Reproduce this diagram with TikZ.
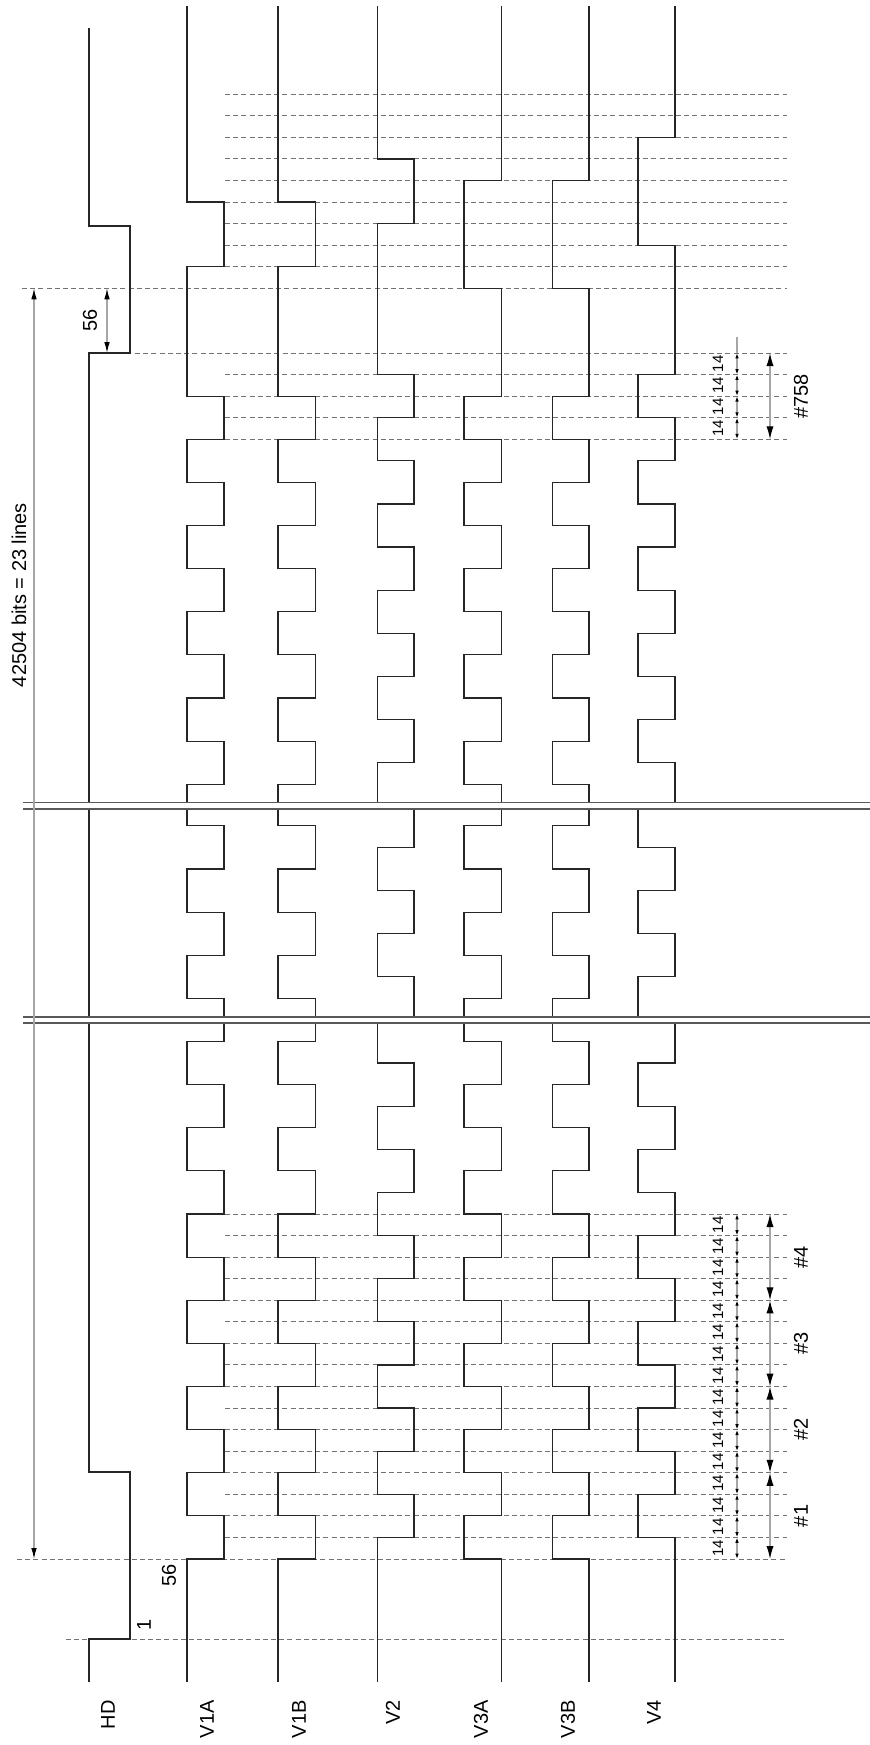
\documentclass[tikz,border=0pt]{standalone}
\usepackage{fontspec}
\setmainfont{Liberation Sans}
\usepackage{tikz}
\usetikzlibrary{arrows.meta}

\newcommand{\yup}[1]{353+21.5625*(#1)}
\newcommand{\ylow}[1]{1559-21.5625*(#1)}

\tikzset{
    sig/.style={black!85, line width=0.6pt},
    dashline/.style={black!55, line width=0.5pt, dash pattern=on 2.5pt off 1.6pt},
    dimline/.style={gray!70, line width=0.6pt},
    breakline/.style={black!65, line width=0.6pt},
    tinyarrow/.style={dimline, {Latex[length=2.7pt,width=1.8pt,color=black]}-{Latex[length=2.7pt,width=1.8pt,color=black]}},
    bigarrow/.style={dimline, {Latex[length=6.5pt,width=3.6pt,color=black]}-{Latex[length=6.5pt,width=3.6pt,color=black]}},
    longarrow/.style={dimline, {Latex[length=5.5pt,width=2.8pt,color=black]}-{Latex[length=5.5pt,width=2.8pt,color=black]}},
    lbl/.style={font=\fontsize{10}{12}\selectfont, inner sep=0pt, rotate=90},
    tinylbl/.style={font=\fontsize{7.5}{9}\selectfont, inner sep=0pt, rotate=90}
}

% V1A, V1B, V3A, V3B
\newcommand{\sigvone}[4]{%
    \draw[sig] (#1,6) -- (#1,{\yup{#3}}) -- (#2,{\yup{#3}}) -- (#2,{\yup{#4}}) -- (#1,{\yup{#4}}) -- (#1,{\yup{2}})
        \foreach \k in {2,6,10,14} { -- (#2,{\yup{\k}}) -- (#2,{\yup{\k+2}}) -- (#1,{\yup{\k+2}}) -- (#1,{\yup{\k+4}}) }
        -- (#2,{\yup{18}}) -- (#2,{\yup{20}}) -- (#1,{\yup{20}}) -- (#1,802.5);
    \draw[sig] (#1,809) -- (#1,{\ylow{34}})
        \foreach \j in {34,30} { -- (#2,{\ylow{\j}}) -- (#2,{\ylow{\j-2}}) -- (#1,{\ylow{\j-2}}) -- (#1,{\ylow{\j-4}}) }
        -- (#2,{\ylow{26}}) -- (#2,1017);
    \draw[sig] (#2,1023) -- (#2,{\ylow{24}}) -- (#1,{\ylow{24}}) -- (#1,{\ylow{22}})
        \foreach \j in {22,18,14,10,6,2} { -- (#2,{\ylow{\j}}) -- (#2,{\ylow{\j-2}}) -- (#1,{\ylow{\j-2}}) -- (#1,{\ylow{\j-4}}) }
        -- (#1,1682);
}

% V2, V4
\newcommand{\sigvtwo}[4]{%
    \draw[sig] (#1,6) -- (#1,{\yup{#3}}) -- (#2,{\yup{#3}}) -- (#2,{\yup{#4}}) -- (#1,{\yup{#4}}) -- (#1,{\yup{1}})
        \foreach \k in {1,5,9,13} { -- (#2,{\yup{\k}}) -- (#2,{\yup{\k+2}}) -- (#1,{\yup{\k+2}}) -- (#1,{\yup{\k+4}}) }
        -- (#2,{\yup{17}}) -- (#2,{\yup{19}}) -- (#1,{\yup{19}}) -- (#1,802.5);
    \draw[sig] (#2,809) -- (#2,{\ylow{33}}) -- (#1,{\ylow{33}}) -- (#1,{\ylow{31}}) -- (#2,{\ylow{31}})
        -- (#2,{\ylow{29}}) -- (#1,{\ylow{29}}) -- (#1,{\ylow{27}}) -- (#2,{\ylow{27}}) -- (#2,1017);
    \draw[sig] (#1,1023) -- (#1,{\ylow{23}})
        \foreach \j in {23,19,15,11,7,3} { -- (#2,{\ylow{\j}}) -- (#2,{\ylow{\j-2}}) -- (#1,{\ylow{\j-2}}) -- (#1,{\ylow{\j-4}}) }
        -- (#1,1682);
}

\begin{document}
\begin{tikzpicture}[x=0.5pt, y=-0.5pt]
    \useasboundingbox (0,0) rectangle (870,1745);

    \foreach \k in {-12,...,-4,1,2,3,4} \draw[dashline] (225,{\yup{\k}}) -- (787,{\yup{\k}});
    \draw[dashline] (22,{\yup{-3}}) -- (787,{\yup{-3}});
    \draw[dashline] (135,353) -- (787,353);
    \foreach \j in {1,...,16} \draw[dashline] (225,{\ylow{\j}}) -- (787,{\ylow{\j}});
    \draw[dashline] (17,1559) -- (787,1559);
    \draw[dashline] (66,1639) -- (787,1639);

    \draw[sig] (89,28) -- (89,226) -- (130,226) -- (130,353) -- (89,353) -- (89,802.5);
    \draw[sig] (89,809) -- (89,1017);
    \draw[sig] (89,1023) -- (89,1472) -- (130,1472) -- (130,1639) -- (89,1639) -- (89,1682);

    \sigvone{187}{224}{-7}{-4}
    \sigvone{278}{315.5}{-7}{-4}
    \sigvtwo{377.5}{414}{-9}{-6}
    \sigvone{501.5}{464}{-8}{-3}
    \sigvone{589}{552.5}{-8}{-3}
    \sigvtwo{675}{638}{-10}{-5}

    \draw[breakline] (23,802.5) -- (870,802.5);
    \draw[breakline] (23,809) -- (870,809);
    \draw[breakline] (23,1017) -- (870,1017);
    \draw[breakline] (23,1023) -- (870,1023);

    \draw[longarrow] (34,{\yup{-3}}) -- (34,1559);
    \node[lbl] (total) at (19,595) {42504 bits = 23 lines};
    \draw[longarrow] (107,{\yup{-3}}) -- (107,353);
    \node[lbl] (hdtop) at (90,320) {56};
    \node[lbl] (hdlow) at (169,1575) {56};
    \node[lbl] (hdone) at (144,1625) {1};

    \draw[dimline] (737,337) -- (737,353);
    \foreach \k in {0,...,3} {
        \draw[tinyarrow] (737,{\yup{\k}}) -- (737,{\yup{\k+1}});
        \node[tinylbl] (top\k) at (718,{\yup{\k+0.5}}) {14};
    }
    \draw[bigarrow] (770,353) -- (770,{\yup{4}});
    \node[lbl] (last) at (801,{\yup{2}}) {\#758};

    \foreach \j in {0,...,15} {
        \draw[tinyarrow] (737,{\ylow{\j}}) -- (737,{\ylow{\j+1}});
        \node[tinylbl] (low\j) at (718,{\ylow{\j+0.5}}) {14};
    }
    \foreach \g [count=\n] in {0,4,8,12} {
        \draw[bigarrow] (770,{\ylow{\g}}) -- (770,{\ylow{\g+4}});
        \node[lbl] (grp\n) at (801,{\ylow{\g+2}}) {\#\n};
    }

    \node[lbl, anchor=east] (hd) at (108,1700) {HD};
    \node[lbl, anchor=east] (v1a) at (207,1700) {V1A};
    \node[lbl, anchor=east] (v1b) at (299,1700) {V1B};
    \node[lbl, anchor=east] (v2) at (393,1700) {V2};
    \node[lbl, anchor=east] (v3a) at (481,1700) {V3A};
    \node[lbl, anchor=east] (v3b) at (568,1700) {V3B};
    \node[lbl, anchor=east] (v4) at (654,1700) {V4};
\end{tikzpicture}
\end{document}
